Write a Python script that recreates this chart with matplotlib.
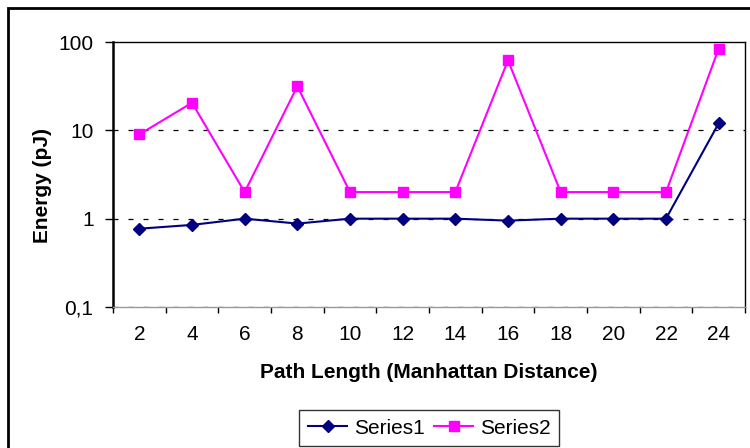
import matplotlib.pyplot as plt
from matplotlib.patches import Rectangle
from matplotlib.ticker import FixedLocator, NullLocator

plt.rcParams['font.family'] = ['Liberation Sans', 'DejaVu Sans']

path_length = [2, 4, 6, 8, 10, 12, 14, 16, 18, 20, 22, 24]
series1 = [0.77, 0.85, 1.0, 0.88, 1.0, 1.0, 1.0, 0.95, 1.0, 1.0, 1.0, 12.0]
series2 = [9.0, 20.5, 2.0, 31.5, 2.0, 2.0, 2.0, 62.0, 2.0, 2.0, 2.0, 84.0]
y_ticks = [0.1, 1, 10, 100]
y_labels = ['0,1', '1', '10', '100']

fig = plt.figure(figsize=(7.5, 4.48), dpi=100)
ax = fig.add_axes([113 / 750, 1 - 307 / 448, 632 / 750, 265 / 448])

xs = list(range(len(path_length)))
ax.plot(xs, series1, color='#000080', marker='D', markersize=6.5, lw=1.5, label='Series1')
ax.plot(xs, series2, color='#FF00FF', marker='s', markersize=7, lw=1.5, label='Series2')

ax.set_yscale('log')
ax.set_ylim(0.1, 100)
ax.set_xlim(-0.5, len(xs) - 0.5)
ax.yaxis.set_major_locator(FixedLocator(y_ticks))
ax.yaxis.set_minor_locator(NullLocator())
ax.set_yticks(y_ticks)
ax.set_yticklabels(y_labels, fontsize=15)
ax.set_xticks(xs)
ax.set_xticklabels([str(v) for v in path_length], fontsize=15)
ax.set_xticks([x - 0.5 for x in range(len(xs) + 1)], minor=True)
ax.tick_params(axis='x', which='major', length=0, pad=13)
ax.tick_params(axis='x', which='minor', length=4, color='black', width=1)
ax.tick_params(axis='y', which='major', length=6, width=1, pad=8)

for v in [1, 10]:
    ax.axhline(v, color='black', lw=0.9, ls=(0, (4, 8)), zorder=0)
ax.axhline(0.1, color='black', lw=0.9, ls=(0, (4, 8)), zorder=1)

ax.spines['left'].set_linewidth(1.8)
ax.spines['bottom'].set_color('#999999')
ax.spines['bottom'].set_linewidth(1.0)
ax.spines['top'].set_linewidth(1.0)
ax.spines['right'].set_linewidth(1.0)

ax.set_xlabel('Path Length (Manhattan Distance)', fontsize=15, fontweight='bold')
ax.xaxis.set_label_coords(0.5, -(373 - 307) / 265, transform=ax.transAxes)
ax.xaxis.label.set_verticalalignment('center')
ax.set_ylabel('Energy (pJ)', fontsize=15, fontweight='bold')
ax.yaxis.set_label_coords(-(113 - 42) / 632, (307 - 185) / 265)
ax.yaxis.label.set_verticalalignment('center')

leg = ax.legend(loc='upper center', bbox_to_anchor=(0.5, -(400 - 307) / 265), ncol=2, fontsize=15,
                frameon=True, fancybox=False, edgecolor='black', handlelength=1.9,
                columnspacing=0.45, handletextpad=0.3, borderpad=0.4)
leg.get_frame().set_linewidth(1.0)

fig.patches.append(Rectangle((8 / 750, -0.1), 1.2, 1 - 8 / 448 + 0.1, transform=fig.transFigure,
                             fill=False, edgecolor='black', lw=2))

fig.savefig('out.png', dpi=100)
